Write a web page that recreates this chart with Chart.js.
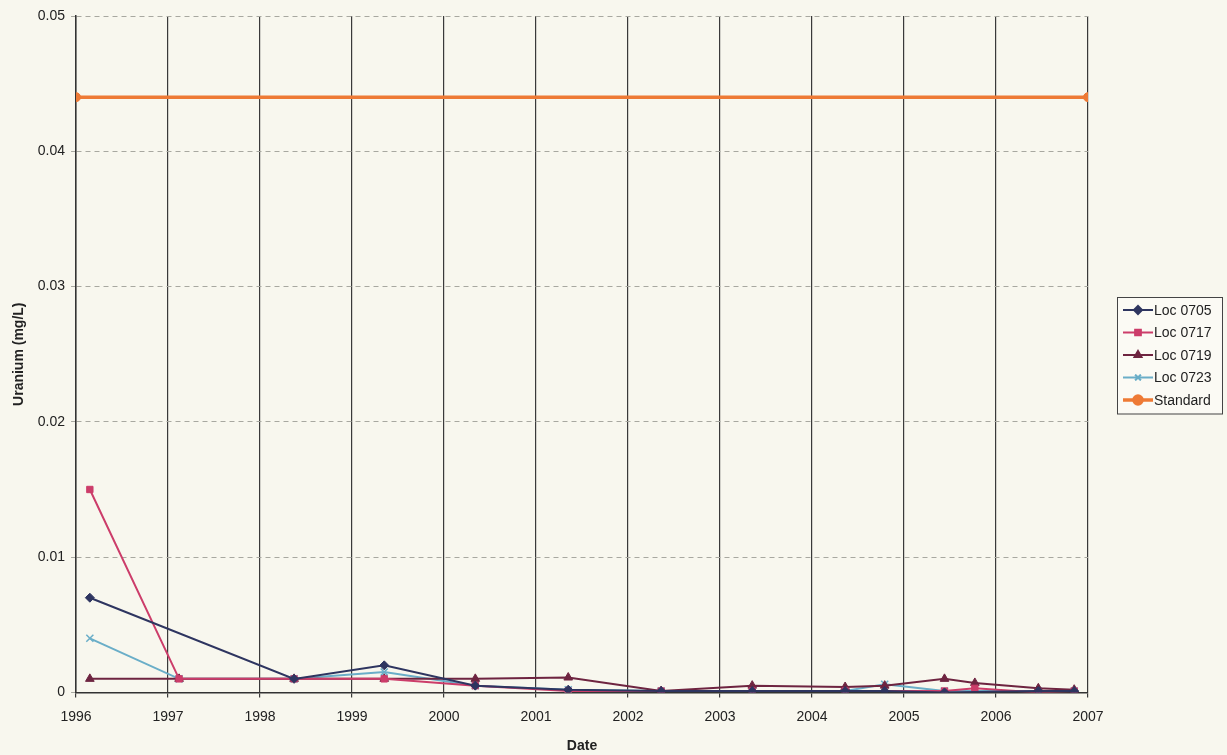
<!DOCTYPE html>
<html>
<head>
<meta charset="utf-8">
<script src="https://cdn.jsdelivr.net/npm/chart.js@4/dist/chart.umd.min.js"></script>
<style>
  html, body { margin: 0; padding: 0; background: #f8f7ee; }
  #wrap { width: 1227px; height: 755px; position: relative; }
</style>
</head>
<body>
<div id="wrap"><canvas id="uranium-chart" width="1227" height="755"></canvas></div>
<script>
// sample dates as decimal years
const sampleDates = [1996.15, 1997.12, 1998.37, 1999.35, 2000.34, 2001.35, 2002.36, 2003.35, 2004.36, 2004.79, 2005.44, 2005.77, 2006.46, 2006.85];

const loc0705 = [0.007, null, 0.001, 0.002, 0.0005, 0.0002, 0.0001, 0.0001, 0.0001, 0.0001, 0.0, null, 0.0001, 0.0001];
const loc0717 = [0.015, 0.001, 0.001, 0.001, 0.0005, 0.0001, 0.0001, 0.0001, 0.0001, null, 0.0001, 0.0003, 0.0, 0.0001];
const loc0719 = [0.001, 0.001, 0.001, 0.001, 0.001, 0.0011, 0.0001, 0.0005, 0.0004, 0.0005, 0.001, 0.0007, 0.0003, 0.0002];
const loc0723 = [0.004, 0.001, 0.001, 0.0015, 0.0005, 0.0002, 0.0001, 0.0001, 0.0001, 0.0006, 0.0001, null, 0.0001, 0.0001];

const standardDates = [1996, 2007];
const standardValues = [0.044, 0.044];

const yearTicks = [1996, 1997, 1998, 1999, 2000, 2001, 2002, 2003, 2004, 2005, 2006, 2007];
const valueTicks = [0, 0.01, 0.02, 0.03, 0.04, 0.05];

function toPoints(xs, ys) {
    return xs.map((x, i) => ({ x, y: ys[i] })).filter(p => p.y !== null);
}

function series(label, xs, ys, color, pointStyle, width, radius) {
    return {
        label,
        data: toPoints(xs, ys),
        borderColor: color,
        backgroundColor: color,
        pointStyle,
        borderWidth: width,
        pointRadius: radius,
        pointBorderWidth: pointStyle === 'crossRot' ? 1.5 : 1,
        tension: 0
    };
}

// legend drawn like the Excel one: short line with a marker in the middle
const boxLegend = {
    id: 'boxLegend',
    afterDraw(chart) {
        const ctx = chart.ctx;
        const sets = chart.data.datasets;
        const x0 = 1117, y0 = 297, w = 105, rowH = 22.5;
        ctx.save();
        ctx.fillStyle = '#fbfaf4';
        ctx.fillRect(x0, y0, w, rowH * sets.length + 4);
        ctx.strokeStyle = '#444';
        ctx.lineWidth = 1;
        ctx.strokeRect(x0 + 0.5, y0 + 0.5, w, rowH * sets.length + 4);
        ctx.font = '14px "Liberation Sans", Arial, sans-serif';
        ctx.textBaseline = 'middle';
        sets.forEach((ds, i) => {
            const cy = y0 + 13 + i * rowH;
            ctx.strokeStyle = ds.borderColor;
            ctx.lineWidth = ds.borderWidth;
            ctx.beginPath();
            ctx.moveTo(x0 + 6, cy);
            ctx.lineTo(x0 + 36, cy);
            ctx.stroke();
            Chart.helpers.drawPoint(ctx, {
                pointStyle: ds.pointStyle,
                radius: Math.min(ds.pointRadius, 4),
                borderWidth: ds.pointBorderWidth,
                rotation: 0
            }, x0 + 21, cy);
            ctx.fillStyle = ds.borderColor;
            ctx.strokeStyle = ds.borderColor;
            ctx.lineWidth = ds.pointBorderWidth;
            ctx.fill();
            ctx.stroke();
            ctx.fillStyle = '#222';
            ctx.fillText(ds.label, x0 + 37, cy + 1);
        });
        ctx.restore();
    }
};

new Chart(document.getElementById('uranium-chart').getContext('2d'), {
    type: 'line',
    data: {
        datasets: [
            series('Loc 0705', sampleDates, loc0705, '#2e3560', 'rectRot', 2, 4.5),
            series('Loc 0717', sampleDates, loc0717, '#cc3d6a', 'rect', 2, 4.5),
            series('Loc 0719', sampleDates, loc0719, '#6e2440', 'triangle', 2, 5),
            series('Loc 0723', sampleDates, loc0723, '#6aaec8', 'crossRot', 2, 5),
            series('Standard', standardDates, standardValues, '#ee7a35', 'circle', 3.5, 4.5)
        ]
    },
    options: {
        responsive: false,
        animation: false,
        spanGaps: true,
        layout: { padding: { top: 16, right: 139, bottom: 0, left: 11 } },
        plugins: {
            legend: { display: false },
            tooltip: { enabled: false }
        },
        scales: {
            x: {
                type: 'linear',
                min: 1996,
                max: 2007,
                afterBuildTicks: axis => { axis.ticks = yearTicks.map(v => ({ value: v })); },
                ticks: {
                    color: '#222',
                    font: { family: '"Liberation Sans", Arial, sans-serif', size: 14 },
                    callback: v => String(v),
                    maxRotation: 0,
                    padding: 11
                },
                grid: { color: '#3a3a3a', lineWidth: 1.2, drawTicks: true, tickLength: 5 },
                border: { color: '#333', width: 1.5 },
                title: {
                    display: true,
                    text: 'Date',
                    color: '#222',
                    font: { family: '"Liberation Sans", Arial, sans-serif', size: 14, weight: 'bold' },
                    padding: { top: 2, bottom: 0 }
                }
            },
            y: {
                min: 0,
                max: 0.05,
                afterBuildTicks: axis => { axis.ticks = valueTicks.map(v => ({ value: v })); },
                ticks: {
                    color: '#222',
                    font: { family: '"Liberation Sans", Arial, sans-serif', size: 14 },
                    callback: v => v === 0 ? '0' : v.toFixed(2),
                    padding: 6
                },
                grid: { color: '#a8a8a0', lineWidth: 1, tickLength: 5 },
                border: { color: '#333', width: 1.5, dash: [5, 4] },
                title: {
                    display: true,
                    text: 'Uranium (mg/L)',
                    color: '#222',
                    font: { family: '"Liberation Sans", Arial, sans-serif', size: 14, weight: 'bold' },
                    padding: { top: 0, bottom: 4 }
                }
            }
        }
    },
    plugins: [boxLegend]
});
</script>
</body>
</html>
